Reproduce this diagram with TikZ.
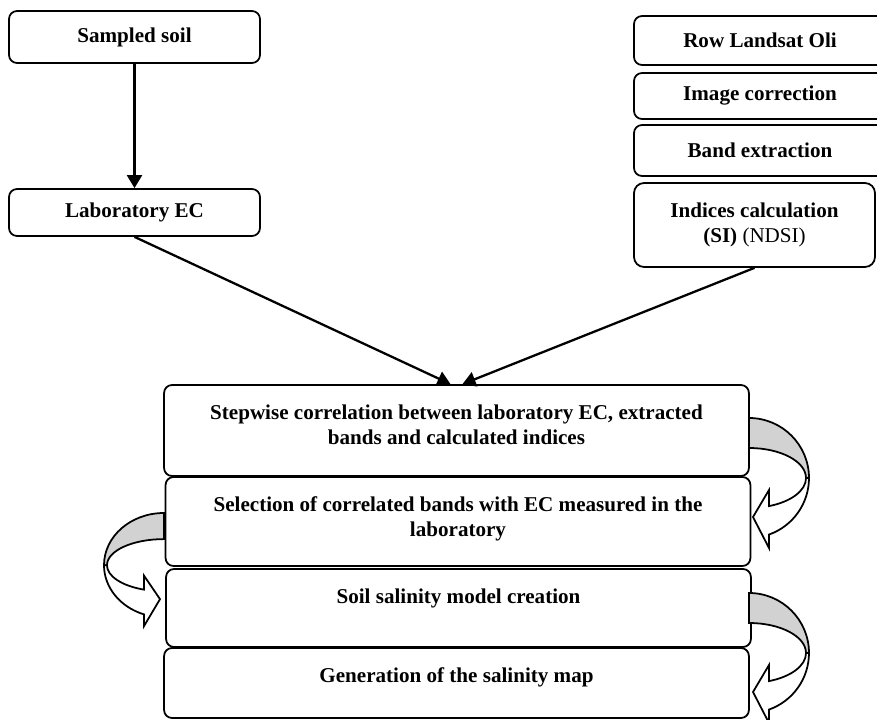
\documentclass[tikz,border=0pt]{standalone}
\usepackage{fontspec}
\setmainfont{Liberation Serif}
\usetikzlibrary{arrows.meta, positioning}

\begin{document}
\begin{tikzpicture}[x=0.02cm, y=-0.02cm,
	flowbox/.style={draw, line width=1pt, rounded corners=0.16cm, align=center, inner sep=0pt,
		font=\fontsize{12}{14.2}\selectfont\bfseries},
	boxtext/.style={align=center, inner sep=0pt, font=\fontsize{12}{14.2}\selectfont\bfseries},
	flowarrow/.style={line width=1.3pt, -{Triangle[length=0.26cm, width=0.3cm]}},
	uturn/.pic={
		\draw[line width=1pt, fill=gray!35] (0,0) arc[start angle=-90, end angle=0, x radius=60, y radius=60]
			-- (57,60) arc[start angle=0, end angle=-90, x radius=57, y radius=30] -- cycle;
		\draw[line width=1pt, fill=white] (60,60) arc[start angle=0, end angle=70.5, x radius=60, y radius=60]
			-- (20,130) -- (4,99) -- (20,72) -- (20,88.1)
			arc[start angle=69.5, end angle=0, x radius=57, y radius=30] -- cycle;
	}]
	\useasboundingbox (0,0) rectangle (877,720);
	\clip (0,0) rectangle (877,720);
	% field samples
	\node[flowbox, minimum width=5.02cm, minimum height=1.04cm] (soil) at (134.5,37) {Sampled soil};
	\node[flowbox, minimum width=5.02cm, minimum height=0.94cm] (lab) at (134.5,212.5) {Laboratory EC};
	% image processing
	\node[flowbox, minimum width=5.04cm, minimum height=0.98cm] (raw) at (760,40.5) {Row Landsat Oli};
	\node[flowbox, minimum width=5.04cm, minimum height=0.92cm] (imgcorr) at (760,96) {Image correction};
	\node[flowbox, minimum width=5.04cm, minimum height=1.02cm] (bands) at (760,150.5) {Band extraction};
	\node[flowbox, minimum width=4.82cm, minimum height=1.68cm, rounded corners=0.2cm] (idx) at (754.5,225)
		{Indices calculation\\(SI) {\mdseries(NDSI)}};
	% modelling steps
	\node[flowbox, minimum width=11.7cm, minimum height=1.82cm] (corr) at (456.5,430.5) {};
	\node[boxtext, below=0.4cm of corr.north] (corrtxt)
		{Stepwise correlation between laboratory EC, extracted\\bands and calculated indices};
	\node[flowbox, minimum width=11.7cm, minimum height=1.78cm] (select) at (458,521.5) {};
	\node[boxtext, below=0.4cm of select.north] (selecttxt)
		{Selection of correlated bands with EC measured in the\\laboratory};
	\node[flowbox, minimum width=11.7cm, minimum height=1.56cm] (model) at (458.5,608) {};
	\node[boxtext, below=0.4cm of model.north] (modeltxt) {Soil salinity model creation};
	\node[flowbox, minimum width=11.7cm, minimum height=1.4cm] (salmap) at (456.5,683) {};
	\node[boxtext, below=0.4cm of salmap.north] (salmaptxt) {Generation of the salinity map};
	% connectors
	\draw[flowarrow] (soil) -- (lab);
	\draw[flowarrow] (lab.south) -- ([xshift=-0.12cm]corr.north);
	\draw[flowarrow] (idx.south) -- ([xshift=0.12cm]corr.north);
	% turning arrows
	\pic at (749,418) {uturn};
	\pic at (749,593) {uturn};
	\pic[xscale=-1, yscale=0.87] at (164,513) {uturn};
\end{tikzpicture}
\end{document}
